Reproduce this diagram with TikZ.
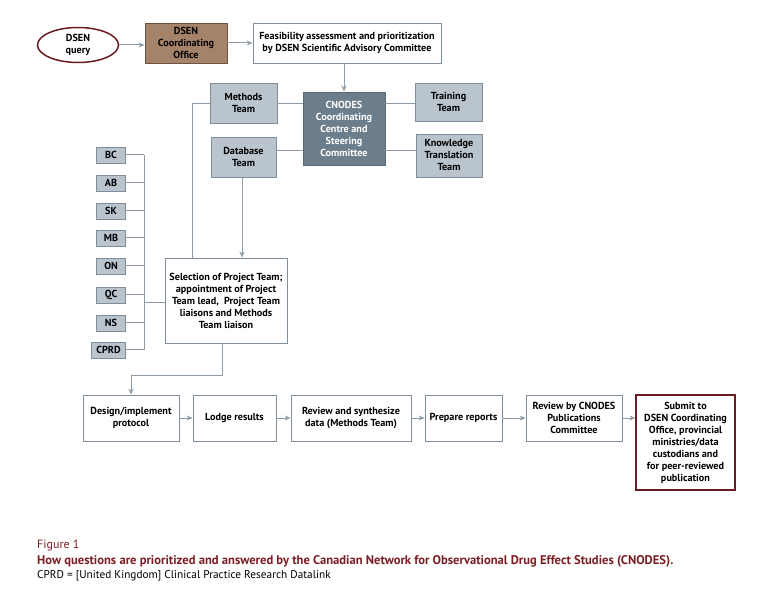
\documentclass[tikz,border=0pt]{standalone}
\usepackage{fontspec}
\setmainfont{PT Sans}
\usetikzlibrary{arrows.meta,shapes.geometric}
\definecolor{boxgray}{HTML}{B9C4CD}
\definecolor{edgegray}{HTML}{7F8E9A}
\definecolor{linegray}{HTML}{8C9BA7}
\definecolor{slate}{HTML}{6C7E8C}
\definecolor{slateedge}{HTML}{5A6B78}
\definecolor{brownfill}{HTML}{A5836A}
\definecolor{brownedge}{HTML}{6E5140}
\definecolor{darkred}{HTML}{6A1B1F}
\definecolor{captred}{HTML}{7B1E24}
\begin{document}
\begin{tikzpicture}[x=1pt,y=-1pt,
  font=\fontsize{10.2}{12}\selectfont\bfseries,
  every node/.style={align=center, inner sep=1pt},
  wbox/.style={draw=edgegray, line width=0.9pt, fill=white},
  gbox/.style={draw=edgegray, line width=0.9pt, fill=boxgray},
  prov/.style={draw=edgegray, line width=0.9pt, fill=boxgray, minimum height=16pt, anchor=east},
  conn/.style={draw=linegray, line width=1pt},
  arr/.style={conn, -{Stealth[length=6pt,width=5pt]}}]
\useasboundingbox (0,0) rectangle (771,593);

% top row
\node[ellipse, draw=darkred, line width=1.5pt, fill=white, minimum width=81pt, minimum height=35pt] (query) at (78,45) {DSEN\\query};
\node[draw=brownedge, line width=0.9pt, fill=brownfill, minimum width=82pt, minimum height=40pt] (office) at (186,43) {DSEN\\Coordinating\\Office};
\node[wbox, minimum width=188pt, minimum height=40pt] (feas) at (347,43) {Feasibility assessment and prioritization\\by DSEN Scientific Advisory Committee};

% centre cluster
\node[draw=slateedge, line width=0.9pt, fill=slate, text=white, minimum width=82pt, minimum height=73pt] (cnodes) at (344,128.5) {CNODES\\Coordinating\\Centre and\\Steering\\Committee};
\node[gbox, minimum width=67pt, minimum height=40pt] (methods) at (243.5,103) {Methods\\Team};
\node[gbox, minimum width=67pt, minimum height=38pt] (training) at (448.5,102) {Training\\Team};
\node[gbox, minimum width=65pt, minimum height=40pt] (database) at (243.5,157) {Database\\Team};
\node[gbox, minimum width=66pt, minimum height=43pt] (kt) at (449,155.5) {Knowledge\\Translation\\Team};

% selection
\node[wbox, minimum width=122pt, minimum height=85pt] (sel) at (226,300.5) {Selection of Project Team;\\appointment of Project\\Team lead,\ \ Project Team\\liaisons and Methods\\Team liaison};

% provinces
\node[prov, minimum width=29pt] (bc) at (126,155) {BC};
\node[prov, minimum width=29pt] (ab) at (126,183) {AB};
\node[prov, minimum width=29pt] (sk) at (126,211) {SK};
\node[prov, minimum width=29pt] (mb) at (126,238) {MB};
\node[prov, minimum width=29pt] (on) at (126,266) {ON};
\node[prov, minimum width=29pt] (qc) at (126,295) {QC};
\node[prov, minimum width=29pt] (ns) at (126,323) {NS};
\node[prov, minimum width=34pt] (cprd) at (126,350) {CPRD};

% bottom row
\node[wbox, minimum width=96pt, minimum height=46pt] (design) at (131,418) {Design/implement\\protocol};
\node[wbox, minimum width=83pt, minimum height=46pt] (lodge) at (234.5,418) {Lodge results};
\node[wbox, minimum width=120pt, minimum height=46pt] (synth) at (351,418) {Review and synthesize\\data (Methods Team)};
\node[wbox, minimum width=77pt, minimum height=46pt] (prep) at (463.5,418) {Prepare reports};
\node[wbox, minimum width=96pt, minimum height=46pt] (pubc) at (574,418) {Review by CNODES\\Publications\\Committee};
\node[draw=darkred, line width=1.2pt, fill=white, minimum width=99pt, minimum height=95pt] (submit) at (685.5,442.5) {Submit to\\DSEN Coordinating\\Office, provincial\\ministries/data\\custodians and\\for peer-reviewed\\publication};

% connectors top
\draw[arr] (query.east) -- (query.east -| office.west);
\draw[arr] (office.east) -- (office.east -| feas.west);
\draw[arr] (feas.south -| cnodes.north) -- (cnodes.north);

% cluster connectors
\coordinate (mrow) at (0,104);
\coordinate (drow) at (0,151);
\draw[conn] (methods.east |- mrow) -- (cnodes.west |- mrow);
\draw[conn] (cnodes.east |- mrow) -- (training.west |- mrow);
\draw[conn] (database.east |- drow) -- (cnodes.west |- drow);
\draw[conn] (cnodes.east |- drow) -- (kt.west |- drow);
\coordinate (mline) at (192,104);
\draw[conn] (methods.west |- mrow) -- (mline) -- (mline |- sel.north);
\draw[arr] (database.south -| 242,0) -- (sel.north -| 242,0);

% province bracket
\coordinate (brx) at (144,0);
\foreach \p in {bc,ab,sk,mb,on,qc,ns,cprd}{
  \draw[conn] (\p.east) -- (\p.east -| brx);
}
\draw[conn] (bc.east -| brx) -- (cprd.east -| brx);
\coordinate (bry) at (0,303);
\draw[conn] (brx |- bry) -- (sel.west |- bry);

% selection to design
\coordinate (s1) at (222,376);
\draw[arr] (sel.south -| s1) -- (s1) -- (s1 -| design.north) -- (design.north);

% bottom row arrows
\draw[arr] (design.east) -- (lodge.west);
\draw[arr] (lodge.east) -- (synth.west);
\draw[arr] (synth.east) -- (prep.west);
\draw[arr] (prep.east) -- (pubc.west);
\draw[arr] (pubc.east) -- (pubc.east -| submit.west);

% caption
\node[anchor=base west, inner sep=0pt, font=\fontsize{12}{14}\selectfont, text=captred] (fig) at (37,548) {Figure 1};
\node[anchor=base west, inner sep=0pt, font=\fontsize{12.6}{14}\selectfont\bfseries, text=captred] (cap) at (37,564) {How questions are prioritized and answered by the Canadian Network for Observational Drug Effect Studies (CNODES).};
\node[anchor=base west, inner sep=0pt, font=\fontsize{11.3}{13}\selectfont, text=black] (note) at (37,578) {CPRD = [United Kingdom] Clinical Practice Research Datalink};
\end{tikzpicture}
\end{document}
